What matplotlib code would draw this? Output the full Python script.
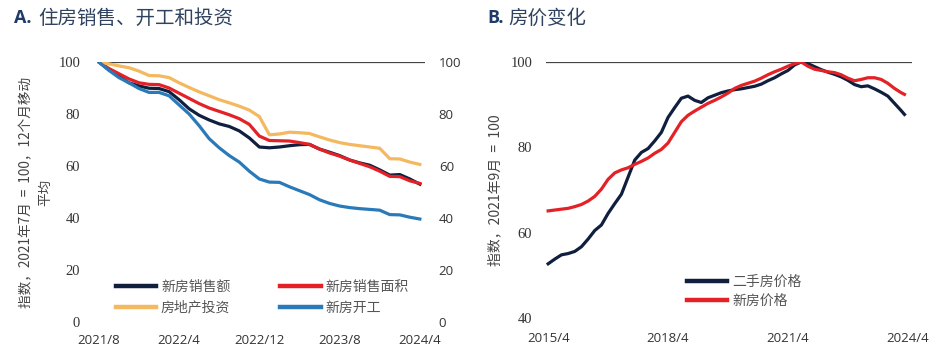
import numpy as np
import pandas as pd
import matplotlib
matplotlib.use('Agg')
import matplotlib.pyplot as plt

plt.rcParams['font.family'] = ['Noto Sans CJK SC', 'DejaVu Sans']

# ---- panel A: index, 2021/7 = 100, 12-month moving average (monthly, 2021/8 - 2024/4)
a_months = pd.period_range('2021-08', '2024-04', freq='M')
sales_value = [100, 97, 94.5, 92, 90.8, 89.9, 89.8, 88.6, 85.5, 82, 79.5, 77.7, 76.2, 75.2,
               73.5, 70.8, 67.3, 67, 67.3, 67.8, 68.2, 68.3, 66.5, 65.3, 64, 62.3, 61.2,
               60.3, 58.5, 56.5, 56.7, 55, 53]
sales_area = [100, 97.5, 95.5, 93.5, 92, 91.4, 91.3, 90, 88, 86, 84, 82.3, 81, 79.7, 78.2,
              76, 71.5, 69.8, 69.7, 69.6, 69, 68.3, 66.5, 65, 63.8, 62.3, 61, 59.7, 58,
              56, 55.9, 54.3, 53.3]
investment = [100, 99.3, 98.5, 97.8, 96.5, 94.8, 94.7, 94, 92, 90.2, 88.5, 87, 85.5, 84.3,
              83, 81.5, 79, 72, 72.3, 73, 72.8, 72.5, 71.2, 70, 69, 68.3, 67.8, 67.3, 66.8,
              62.8, 62.7, 61.5, 60.6]
starts = [100, 96.8, 94, 92, 89.8, 88.3, 88.3, 87, 83.5, 80, 75.5, 70.5, 67, 64, 61.5, 58,
          55, 53.8, 53.7, 52, 50.5, 49, 47, 45.6, 44.6, 44, 43.6, 43.3, 43, 41.3, 41.2,
          40.3, 39.6]
a_ticks = ['2021/8', '2022/4', '2022/12', '2023/8', '2024/4']

# ---- panel B: index, 2021/9 = 100 (every second month, 2015/4 - 2024/3)
b_dates = list(pd.date_range('2015-04-01', '2024-02-01', freq='2MS')) + [pd.Timestamp('2024-03-01')]
resale_price = [52.7, 53.8, 54.8, 55.1, 55.6, 56.7, 58.5, 60.5, 61.8, 64.5, 66.8, 69, 73, 77,
                78.8, 79.7, 81.5, 83.5, 87, 89.3, 91.5, 92, 91, 90.5, 91.6, 92.2, 92.8, 93.2,
                93.5, 93.7, 94, 94.3, 94.8, 95.6, 96.3, 97.2, 98, 99.3, 100, 99.6, 98.9, 98.2,
                97.6, 97.1, 96.5, 95.7, 94.7, 94.2, 94.4, 93.7, 92.9, 92, 90.3, 88.6, 87.7]
new_price = [65.1, 65.3, 65.5, 65.7, 66.1, 66.6, 67.4, 68.5, 70.2, 72.5, 74, 74.7, 75.2, 76,
             76.7, 77.5, 78.6, 79.5, 81, 83.5, 86, 87.5, 88.5, 89.4, 90.3, 91, 91.8, 92.7,
             93.8, 94.5, 95, 95.5, 96.2, 97, 97.7, 98.3, 99, 99.6, 100, 99, 98.3, 98, 97.7,
             97.5, 97, 96.2, 95.6, 95.9, 96.3, 96.3, 95.9, 95, 93.8, 92.8, 92.4]
b_ticks = ['2015/4', '2018/4', '2021/4', '2024/4']

NAVY = '#0f1f3d'
RED = '#e32126'
ORANGE = '#f4b85f'
BLUE = '#2a7ab9'
TXT = '#333333'


def month_index(periods, start):
    return np.array([(p.year - start.year) * 12 + p.month - start.month for p in periods])


fig = plt.figure(figsize=(9.4, 3.54), dpi=100)

# ---------------- panel A
axA = fig.add_axes([0.103, 0.0904, 0.349, 0.7345])
xa = month_index(a_months, a_months[0])
l_val, = axA.plot(xa, sales_value, color=NAVY, lw=2.3, label='新房销售额')
l_area, = axA.plot(xa, sales_area, color=RED, lw=2.3, label='新房销售面积')
l_inv, = axA.plot(xa, investment, color=ORANGE, lw=2.3, label='房地产投资')
l_st, = axA.plot(xa, starts, color=BLUE, lw=2.3, label='新房开工')
axA.axhline(100, color='#444444', lw=0.9, zorder=0)
axA.set_xlim(-0.2, 32.5)
axA.set_ylim(0, 100)
axA.set_xticks([0, 8, 16, 24, 32])
axA.set_xticklabels(a_ticks)
axA.set_yticks([0, 20, 40, 60, 80, 100])
for s in axA.spines.values():
    s.set_visible(False)
axA.tick_params(axis='both', length=0, colors=TXT, labelsize=9.5)
axA.tick_params(axis='x', pad=9)
axA.tick_params(axis='y', pad=12)
for t in axA.get_yticklabels():
    t.set_family('Liberation Serif')
    t.set_fontsize(10.5)
for t in axA.get_xticklabels():
    t.set_family('Open Sans')
axA.set_ylabel('指数，2021年7月  =  100，12个月移动\n平均', fontsize=9.8, color='#444444',
               labelpad=4, linespacing=1.5)

axA2 = axA.twinx()
axA2.set_ylim(0, 100)
axA2.set_yticks([0, 20, 40, 60, 80, 100])
for s in axA2.spines.values():
    s.set_visible(False)
axA2.tick_params(axis='y', length=0, colors=TXT, labelsize=9.5, pad=10)
for t in axA2.get_yticklabels():
    t.set_family('Open Sans')

legA = axA.legend([l_val, l_inv, l_area, l_st],
                  ['新房销售额', '房地产投资', '新房销售面积', '新房开工'],
                  ncol=2, loc='upper left', bbox_to_anchor=(0.058, 0.163), frameon=False,
                  fontsize=10, handlelength=2.9, handletextpad=0.35, columnspacing=3.6,
                  labelspacing=0.5, borderpad=0, borderaxespad=0)
for line in legA.get_lines():
    line.set_linewidth(3.2)
for t in legA.get_texts():
    t.set_color('#555555')

# ---------------- panel B
axB = fig.add_axes([0.581, 0.1017, 0.389, 0.7233])
xb = month_index(b_dates, b_dates[0])
axB.plot(xb, resale_price, color=NAVY, lw=2.3, label='二手房价格')
axB.plot(xb, new_price, color=RED, lw=2.3, label='新房价格')
axB.axhline(100, color='#444444', lw=0.9, zorder=0)
axB.set_xlim(-0.6, 109.2)
axB.set_ylim(40, 100)
axB.set_xticks([0, 36, 72, 108])
axB.set_xticklabels(b_ticks)
axB.set_yticks([40, 60, 80, 100])
for s in axB.spines.values():
    s.set_visible(False)
axB.tick_params(axis='both', length=0, colors=TXT, labelsize=9.5)
axB.tick_params(axis='x', pad=10)
axB.tick_params(axis='y', pad=10)
for t in axB.get_yticklabels():
    t.set_family('Liberation Serif')
    t.set_fontsize(10.5)
for t in axB.get_xticklabels():
    t.set_family('Open Sans')
axB.set_ylabel('指数，2021年9月  =  100', fontsize=10, color='#444444', labelpad=6)

legB = axB.legend(loc='upper left', bbox_to_anchor=(0.385, 0.168), frameon=False,
                  fontsize=10, handlelength=2.9, handletextpad=0.35, labelspacing=0.32,
                  borderpad=0, borderaxespad=0)
for line in legB.get_lines():
    line.set_linewidth(3.2)
for t in legB.get_texts():
    t.set_color('#555555')

# ---------------- titles
fig.text(14 / 940, 1 - 18 / 354, 'A.', fontsize=13, fontweight='bold', color='#1f3a68',
         family='Open Sans', va='center')
fig.text(38 / 940, 1 - 18 / 354, '住房销售、开工和投资', fontsize=14, color='#2f4260',
         va='center')
fig.text(487 / 940, 1 - 18 / 354, 'B.', fontsize=13, fontweight='bold', color='#1f3a68',
         family='Open Sans', va='center')
fig.text(508 / 940, 1 - 18 / 354, '房价变化', fontsize=14, color='#2f4260', va='center')

fig.savefig('out.png', dpi=100, facecolor='white')
